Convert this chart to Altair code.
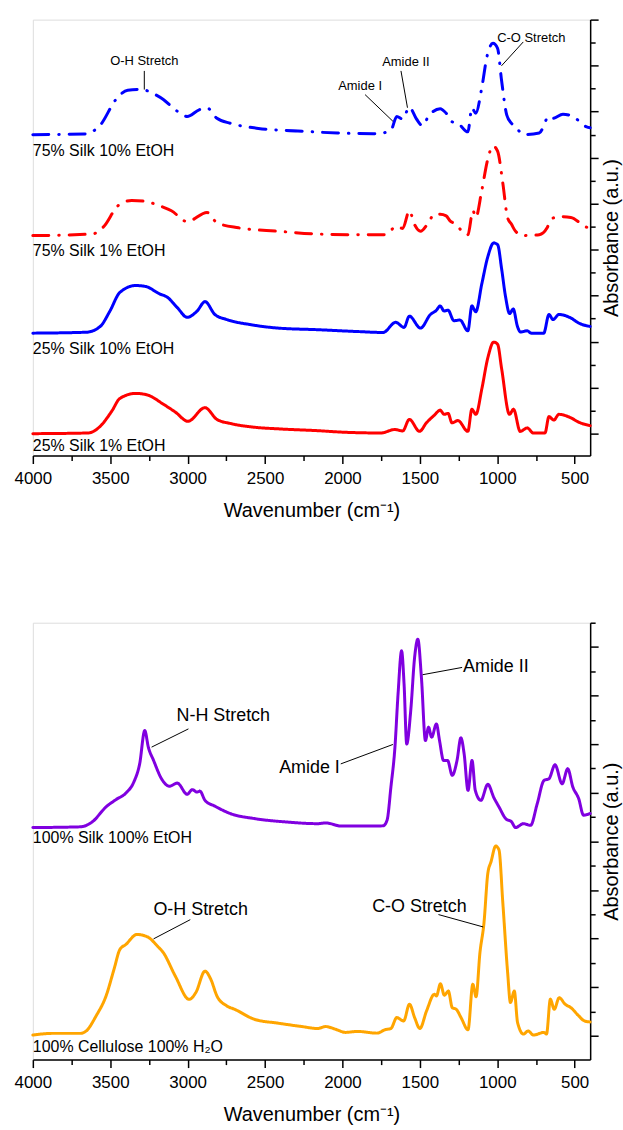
import altair as alt
import pandas as pd

FONT = "Liberation Sans, Arial, Helvetica, sans-serif"

# ---------------- Top panel spectra (relative absorbance) ----------------
s25_1_wn = [4000,3642,3565,3489,3438,3335,3259,3157,3080,2998,2888,2811,2722,2569,2416,2160,1981,1751,1662,1611,
            1568,1502,1458,1407,1369,1343,1318,1292,1254,1190,1164,1138,1100,1062,1023,998,972,921,895,852,
            806,768,692,666,635,602,525,474,400]
s25_1_val = [0,0.03,0.32,0.99,1.53,1.75,1.68,1.28,0.94,0.54,1.13,0.62,0.44,0.28,0.21,0.13,0.06,0.03,0.18,0.12,
             0.62,0.10,0.47,0.80,1.02,0.84,0.88,0.47,0.57,0.10,1.06,0.84,1.94,3.27,3.98,3.89,2.83,0.84,1.06,0.10,
             0.25,0.03,0.03,0.74,0.59,0.84,0.69,0.50,0.35]

s25_10_wn = [4000,3655,3565,3502,3438,3335,3272,3182,3131,3067,3003,2939,2888,2824,2747,2594,2416,2160,1904,1738,
             1656,1602,1568,1496,1432,1394,1369,1343,1318,1280,1241,1190,1164,1139,1100,1062,1023,998,972,947,
             920,897,870,850,806,780,700,666,640,602,525,474,400]
s25_10_val = [0,0.04,0.29,0.96,1.77,2.07,2.03,1.71,1.56,1.11,0.69,0.96,1.37,0.81,0.59,0.37,0.22,0.15,0.07,0.03,
              0.47,0.25,0.74,0.22,0.81,0.99,1.18,0.96,1.00,0.54,0.57,0.10,1.18,0.93,2.14,3.30,3.92,3.85,2.80,1.60,
              0.85,1.05,0.30,0.05,0.10,0.0,0.0,0.81,0.59,0.81,0.66,0.44,0.29]

s75_1_wn = [4000,3616,3540,3450,3361,3284,3182,3105,3003,2875,2811,2671,2416,2160,1904,1726,1649,1611,1568,1535,
            1496,1445,1407,1369,1330,1305,1266,1228,1190,1157,1139,1100,1062,1028,998,964,934,908,882,831,
            729,678,653,602,525,436,400]
s75_1_val = [0,0.07,0.41,1.30,1.53,1.50,1.30,1.08,0.61,1.01,0.56,0.34,0.19,0.07,0.04,0.04,0.41,0.31,1.08,0.49,
             0.19,0.56,0.93,0.93,0.86,0.64,0.49,0.19,0.04,1.08,0.79,1.97,3.30,3.90,3.67,2.27,0.79,0.49,0.19,0.0,
             0.04,0.34,0.71,0.83,0.79,0.41,0.30]

s75_10_wn = [4000,3668,3565,3463,3387,3297,3233,3157,3080,3003,2926,2875,2811,2722,2543,2288,2032,1776,1687,1649,
             1611,1568,1522,1483,1445,1369,1330,1292,1254,1190,1164,1139,1100,1067,1028,998,972,939,908,882,
             831,729,666,640,576,512,423,400]
s75_10_val = [0,0.03,0.41,1.53,1.93,1.97,1.82,1.53,1.08,0.79,1.08,1.16,0.71,0.49,0.27,0.16,0.07,0.04,0.19,0.79,
              0.68,1.19,0.68,0.39,0.79,1.13,0.93,0.56,0.49,0.12,1.16,0.93,2.04,3.38,3.97,3.75,2.34,0.86,0.49,0.34,
              0.0,0.07,0.79,0.71,0.89,0.79,0.34,0.30]

top_names = ["25% Silk 1% EtOH", "25% Silk 10% EtOH", "75% Silk 1% EtOH", "75% Silk 10% EtOH"]
top_offsets = [0.0, 4.37, 8.61, 13.0]
top_colors = ["#FF0000", "#0000FF", "#FF0000", "#0000FF"]
top_label_y = [-0.53, 3.68, 7.92, 12.29]

top_ann_text = ["O-H Stretch", "Amide I", "Amide II", "C-O Stretch"]
top_ann_x = [3280, 1886, 1590, 780]
top_ann_y = [16.2, 15.1, 16.15, 17.2]
top_lead_x1 = [3280, 1854, 1622, 832]
top_lead_y1 = [15.77, 14.74, 15.77, 17.03]
top_lead_x2 = [3280, 1674, 1580, 973]
top_lead_y2 = [14.96, 13.58, 14.17, 15.99]

# ---------------- Bottom panel spectra ----------------
silk_wn = [4000,3693,3617,3527,3463,3399,3348,3310,3277,3254,3220,3169,3118,3067,3003,2970,2939,2921,2888,2824,
           2722,2569,2364,2160,2109,2006,1904,1738,1712,1687,1661,1641,1618,1602,1585,1559,1534,1513,1490,1464,
           1444,1424,1393,1373,1347,1321,1291,1260,1235,1214,1189,1163,1142,1106,1061,1022,989,946,907,882,
           831,785,742,698,666,627,581,545,512,474,443,400]
silk_val = [8.57,8.60,8.80,9.42,9.72,9.99,10.44,11.19,12.56,11.88,11.33,10.58,10.27,10.40,9.94,10.13,10.03,10.07,9.69,9.45,
            9.14,8.94,8.80,8.73,8.76,8.63,8.63,8.64,8.87,10.24,11.88,14.06,15.84,14.47,12.01,13.38,15.57,16.32,14.75,12.15,
            12.70,12.29,12.83,12.15,11.33,11.33,10.72,11.33,12.26,11.60,10.10,11.33,10.10,9.69,10.35,9.80,9.42,8.94,8.80,8.57,
            8.73,8.66,9.55,10.51,10.58,11.15,10.37,10.99,10.24,9.76,9.08,9.15]

cell_wn = [4000,3872,3693,3655,3591,3527,3476,3438,3399,3328,3259,3195,3157,3080,2990,2947,2888,2850,2811,2747,
           2696,2569,2416,2262,2160,2109,2045,1981,1904,1776,1725,1687,1649,1605,1567,1534,1500,1457,1406,1393,
           1367,1342,1316,1291,1265,1234,1189,1158,1137,1112,1086,1061,1040,1010,989,964,933,915,890,869,
           831,800,767,698,682,657,632,600,562,525,474,436,400]
cell_val = [0.03,0.10,0.10,0.20,0.82,1.64,2.73,3.55,3.76,4.17,4.07,3.69,3.42,2.46,1.50,1.78,2.66,2.32,1.64,1.23,
            1.09,0.68,0.52,0.38,0.30,0.38,0.27,0.14,0.18,0.11,0.25,0.30,0.75,0.61,1.30,0.75,0.30,1.02,1.71,1.64,
            2.14,1.67,1.84,1.16,1.09,0.75,0.25,2.12,1.61,3.42,4.64,6.69,7.17,7.81,7.65,5.46,2.60,1.37,1.84,0.55,
            0.07,0.20,0.03,0.14,0.07,1.50,1.09,1.57,1.30,1.16,0.82,0.61,0.57]

bot_names = ["100% Silk 100% EtOH", "100% Cellulose 100% H\u2082O"]
bot_colors = ["#8000E0", "#FFA500"]
bot_label_y = [8.13, -0.48]

bot_ann_text = ["N-H Stretch", "Amide I", "Amide II", "O-H Stretch", "C-O Stretch"]
bot_ann_x = [2770, 2213, 1009, 2916, 1503]
bot_ann_y = [13.17, 11.02, 15.18, 5.19, 5.30]
bot_lead_x1 = [2995, 2011, 1227, 2983, 1380]
bot_lead_y1 = [12.63, 11.19, 15.16, 4.78, 4.99]
bot_lead_x2 = [3233, 1674, 1482, 3220, 1091]
bot_lead_y2 = [11.88, 11.99, 14.86, 3.99, 4.48]

# ---------------- helpers ----------------
x_ticks = list(range(4000, 499, -250))


def x_enc():
    return alt.X(
        "wn:Q",
        scale=alt.Scale(domain=[400, 4000], reverse=True, nice=False, zero=False),
        axis=alt.Axis(
            values=x_ticks,
            format="d",
            labelExpr="datum.value % 500 === 0 ? datum.label : ''",
            labelFlush=False,
            labelOverlap=False,
            tickSize={"condition": {"test": "datum.value % 500 === 0", "value": 8}, "value": 5},
            labelPadding=7,
            labelFontSize=17,
            labelFont=FONT,
            labelColor="black",
            title="Wavenumber (cm\u207b\u00b9)",
            titleFont=FONT,
            titleFontSize=20,
            titleFontWeight="normal",
            titleColor="black",
            titlePadding=14,
            grid=False,
            domainColor="black",
            tickColor="black",
            domainWidth=1.5,
            tickWidth=1.5,
        ),
    )


def y_enc(domain, nticks):
    return alt.Y(
        "val:Q",
        scale=alt.Scale(domain=domain, nice=False, zero=False),
        axis=alt.Axis(
            orient="right",
            values=list(range(0, nticks + 1)),
            labels=False,
            tickSize={"condition": {"test": "datum.value % 2 === 0", "value": 8}, "value": 5},
            title="Absorbance (a.u.)",
            titleFont=FONT,
            titleFontSize=20,
            titleFontWeight="normal",
            titleColor="black",
            titleAngle=270,
            titleBaseline="top",
            titlePadding=3,
            grid=False,
            domainColor="black",
            tickColor="black",
            domainWidth=1.5,
            tickWidth=1.5,
        ),
    )


def panel(spectra, names, colors, dashed, label_y, ann, lead, ann_size, ydom, nticks, height):
    rows = []
    for (wn, val, off), name in zip(spectra, names):
        for w, v in zip(wn, val):
            rows.append({"wn": w, "val": v + off, "series": name})
    df = pd.DataFrame(rows)
    dash_range = [[16, 10, 0.5, 10] if d else [1, 0] for d in dashed]
    lines = alt.Chart(df).mark_line(strokeWidth=3, interpolate="monotone", strokeCap="round").encode(
        x=x_enc(),
        y=y_enc(ydom, nticks),
        color=alt.Color("series:N", scale=alt.Scale(domain=names, range=colors), legend=None),
        strokeDash=alt.StrokeDash("series:N", scale=alt.Scale(domain=names, range=dash_range), legend=None),
        detail="series:N",
    )
    lab_df = pd.DataFrame({"wn": [4000] * len(names), "val": label_y, "label": names})
    labels = alt.Chart(lab_df).mark_text(align="left", baseline="middle", fontSize=16, font=FONT, color="black").encode(
        x=x_enc(), y=y_enc(ydom, nticks), text="label:N"
    )
    ann_df = pd.DataFrame({"wn": ann[1], "val": ann[2], "label": ann[0]})
    ann_txt = alt.Chart(ann_df).mark_text(align="center", baseline="middle", fontSize=ann_size, font=FONT, color="black").encode(
        x=x_enc(), y=y_enc(ydom, nticks), text="label:N"
    )
    lead_df = pd.DataFrame({"wn": lead[0], "val": lead[1], "wn2": lead[2], "val2": lead[3]})
    leads = alt.Chart(lead_df).mark_rule(color="black", strokeWidth=1).encode(
        x=x_enc(), y=y_enc(ydom, nticks), x2="wn2:Q", y2="val2:Q"
    )
    return alt.layer(lines, leads, ann_txt, labels).properties(width=560, height=height)


top = panel(
    [(s25_1_wn, s25_1_val, top_offsets[0]), (s25_10_wn, s25_10_val, top_offsets[1]),
     (s75_1_wn, s75_1_val, top_offsets[2]), (s75_10_wn, s75_10_val, top_offsets[3])],
    top_names, top_colors, [False, False, True, True], top_label_y,
    (top_ann_text, top_ann_x, top_ann_y), (top_lead_x1, top_lead_y1, top_lead_x2, top_lead_y2),
    13, [-0.95, 18], 18, 438,
)

bottom = panel(
    [(silk_wn, silk_val, 0.0), (cell_wn, cell_val, 0.0)],
    bot_names, bot_colors, [False, False], bot_label_y,
    (bot_ann_text, bot_ann_x, bot_ann_y), (bot_lead_x1, bot_lead_y1, bot_lead_x2, bot_lead_y2),
    18, [-0.98, 17], 17, 439,
)

chart = alt.vconcat(top, bottom, spacing=100).resolve_scale(color="independent", strokeDash="independent").properties(
    padding={"left": 13, "top": 15, "right": 0, "bottom": 0}
).configure_view(stroke=None).configure(font=FONT)

chart.save("out.html", embed_options={"renderer": "svg", "actions": False})
